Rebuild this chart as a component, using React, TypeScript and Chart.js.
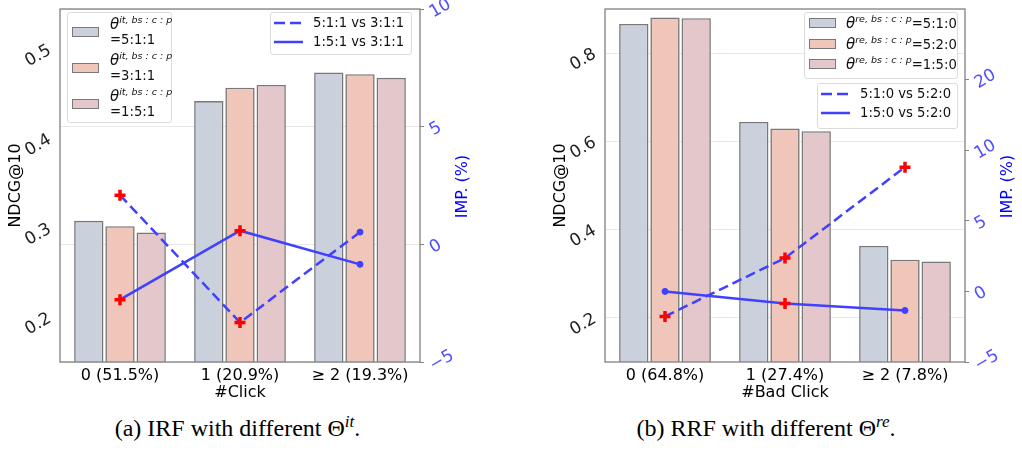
import React, { useEffect, useRef } from 'react';
import { Chart, registerables } from 'chart.js';

Chart.register(...registerables);
Chart.defaults.font.family = '"DejaVu Sans", sans-serif';

// ---------- Data ----------
const irfCategories = ['0 (51.5%)', '1 (20.9%)', '≥ 2 (19.3%)'];
const irfBarNames = ['5:1:1', '3:1:1', '1:5:1'];
const irfBar511 = [0.308, 0.442, 0.474];
const irfBar311 = [0.302, 0.457, 0.472];
const irfBar151 = [0.295, 0.46, 0.468];
const irfLineNames = ['5:1:1 vs 3:1:1', '1:5:1 vs 3:1:1'];
const irfImp511 = [2.09, -3.32, 0.52];
const irfImp151 = [-2.35, 0.58, -0.85];
const irfSig511 = [true, true, false];
const irfSig151 = [true, true, false];
const irfLeftTicks = [0.2, 0.3, 0.4, 0.5];
const irfRightTicks = [-5, 0, 5, 10];

const rrfCategories = ['0 (64.8%)', '1 (27.4%)', '≥ 2 (7.8%)'];
const rrfBarNames = ['5:1:0', '5:2:0', '1:5:0'];
const rrfBar510 = [0.866, 0.644, 0.363];
const rrfBar520 = [0.881, 0.629, 0.332];
const rrfBar150 = [0.879, 0.623, 0.328];
const rrfLineNames = ['5:1:0 vs 5:2:0', '1:5:0 vs 5:2:0'];
const rrfImp510 = [-1.77, 2.36, 8.8];
const rrfImp150 = [0.0, -0.86, -1.35];
const rrfSig510 = [true, true, true];
const rrfSig150 = [false, true, false];
const rrfLeftTicks = [0.2, 0.4, 0.6, 0.8];
const rrfRightTicks = [-5, 0, 5, 10, 15];
const rrfRightTickLabels = ['−5', '0', '5', '10', '20'];

// ---------- Styles ----------
const barColors = ['rgb(203,208,221)', 'rgb(240,197,186)', 'rgb(227,199,203)'];
const barEdge = 'rgb(120,120,120)';
const lineBlue = 'rgb(64,64,255)';
const tickBlue = 'rgb(80,80,255)';
const FONT = '"DejaVu Sans", sans-serif';
const CW = 477;
const CH = 410;

function fmtSigned(v: number) {
  return v < 0 ? '−' + Math.abs(v) : String(v);
}

function extrasPlugin(rightTitle: string) {
  return {
    id: 'extras',
    afterDraw(chart: any) {
      const { ctx, chartArea: a } = chart;
      ctx.save();
      ctx.strokeStyle = 'rgb(128,128,128)';
      ctx.lineWidth = 1.3;
      ctx.strokeRect(a.left, a.top, a.right - a.left, a.bottom - a.top);
      ctx.translate(a.right + 43, (a.top + a.bottom) / 2 + 1);
      ctx.rotate(-Math.PI / 2);
      ctx.fillStyle = '#0000ff';
      ctx.font = '16px ' + FONT;
      ctx.textAlign = 'center';
      ctx.textBaseline = 'middle';
      ctx.fillText(rightTitle, 0, 0);
      ctx.restore();
    },
  };
}

function lineDataset(label: string, data: number[], sig: boolean[], dashed: boolean) {
  return {
    type: 'line',
    label,
    data,
    yAxisID: 'y1',
    order: 1,
    borderColor: lineBlue,
    backgroundColor: lineBlue,
    borderWidth: 2.5,
    borderDash: dashed ? [10, 5] : [],
    tension: 0,
    fill: false,
    pointStyle: sig.map((s) => (s ? 'cross' : 'circle')),
    pointRadius: sig.map((s) => (s ? 5.5 : 3)),
    pointBorderWidth: sig.map((s) => (s ? 3.5 : 1)),
    pointBorderColor: sig.map((s) => (s ? 'rgb(255,0,0)' : lineBlue)),
    pointBackgroundColor: sig.map((s) => (s ? 'rgb(255,0,0)' : lineBlue)),
  };
}

function barDataset(label: string, data: number[], i: number) {
  return {
    type: 'bar',
    label,
    data,
    yAxisID: 'y',
    order: 2,
    backgroundColor: barColors[i],
    borderColor: barEdge,
    borderWidth: 1.6,
    categoryPercentage: 0.78,
    barPercentage: 0.94,
  };
}

function buildConfig(p: {
  categories: string[];
  bars: { name: string; data: number[] }[];
  lines: { name: string; data: number[]; sig: boolean[]; dashed: boolean }[];
  leftMin: number;
  leftMax: number;
  leftTicks: number[];
  rightMin: number;
  rightMax: number;
  rightTicks: number[];
  rightLabels: string[];
  leftGrid: boolean;
  xTitle: string;
}) {
  return {
    type: 'bar',
    data: {
      labels: p.categories,
      datasets: [
        ...p.lines.map((l) => lineDataset(l.name, l.data, l.sig, l.dashed)),
        ...p.bars.map((b, i) => barDataset(b.name, b.data, i)),
      ],
    },
    options: {
      responsive: false,
      animation: false,
      devicePixelRatio: 1,
      layout: { padding: { top: 5, left: 0, right: 0, bottom: 0 } },
      plugins: { legend: { display: false }, tooltip: { enabled: false } },
      scales: {
        x: {
          type: 'category',
          offset: true,
          grid: { display: false, drawTicks: false },
          border: { display: false },
          ticks: { font: { size: 16, family: FONT }, color: '#000', padding: 4, minRotation: 0, maxRotation: 0, autoSkip: false },
          title: { display: true, text: p.xTitle, font: { size: 16, family: FONT }, color: '#000', padding: { top: 0, bottom: 8 } },
          afterFit: (s: any) => {
            s.height = CH - 362;
            s.paddingLeft = 0;
            s.paddingRight = 0;
          },
        },
        y: {
          type: 'linear',
          position: 'left',
          min: p.leftMin,
          max: p.leftMax,
          afterBuildTicks: (s: any) => {
            s.ticks = p.leftTicks.map((v) => ({ value: v }));
          },
          afterFit: (s: any) => {
            s.width = 60;
            s.paddingTop = 0;
            s.paddingBottom = 0;
          },
          grid: p.leftGrid
            ? { display: true, drawOnChartArea: true, drawTicks: false, color: 'rgb(232,232,232)', lineWidth: 1 }
            : { display: false, drawTicks: false },
          border: { display: false },
          ticks: {
            font: { size: 17, family: FONT },
            color: '#222',
            minRotation: 30,
            maxRotation: 30,
            padding: 10,
            callback: (v: any) => Number(v).toFixed(1),
          },
          title: { display: true, text: 'NDCG@10', font: { size: 16, family: FONT }, color: '#000', padding: { top: 6, bottom: 0 } },
        },
        y1: {
          type: 'linear',
          position: 'right',
          min: p.rightMin,
          max: p.rightMax,
          afterBuildTicks: (s: any) => {
            s.ticks = p.rightTicks.map((v) => ({ value: v }));
          },
          afterFit: (s: any) => {
            s.width = CW - 420;
            s.paddingTop = 0;
            s.paddingBottom = 0;
          },
          grid: {
            display: true,
            drawOnChartArea: !p.leftGrid,
            drawTicks: true,
            tickLength: 4,
            tickColor: 'rgb(128,128,128)',
            color: 'rgb(232,232,232)',
            lineWidth: 1,
          },
          border: { display: false },
          ticks: {
            font: { size: 17, family: FONT },
            color: tickBlue,
            minRotation: 30,
            maxRotation: 30,
            padding: 7,
            labelOffset: 5,
            callback: (v: any) => {
              const idx = p.rightTicks.indexOf(Number(v));
              return idx >= 0 ? p.rightLabels[idx] : fmtSigned(Number(v));
            },
          },
          title: { display: false },
        },
      },
    },
    plugins: [extrasPlugin('IMP. (%)')],
  };
}

function ChartCanvas({ left, make }: { left: number; make: () => any }) {
  const ref = useRef<HTMLCanvasElement>(null);
  useEffect(() => {
    const chart = new Chart(ref.current as HTMLCanvasElement, make());
    return () => chart.destroy();
  }, []);
  return (
    <canvas
      ref={ref}
      width={CW}
      height={CH}
      style={{ position: 'absolute', left, top: 0, width: CW, height: CH }}
    />
  );
}

const legendText: React.CSSProperties = {
  position: 'absolute',
  fontFamily: FONT,
  fontSize: 13.2,
  lineHeight: '18px',
  color: '#111',
  whiteSpace: 'nowrap',
};

function Theta({ sup }: { sup: string }) {
  return (
    <span>
      <span style={{ fontStyle: 'italic', fontSize: 15 }}>θ</span>
      <span style={{ fontStyle: 'italic', fontSize: 9.5, position: 'relative', top: -6 }}>{sup}</span>
    </span>
  );
}

function LegendBox({ left, top, width, height }: { left: number; top: number; width: number; height: number }) {
  return (
    <div
      style={{
        position: 'absolute',
        left,
        top,
        width,
        height,
        border: '1px solid rgb(220,220,220)',
        borderRadius: 3,
        background: 'rgba(255,255,255,0.85)',
        boxSizing: 'border-box',
      }}
    />
  );
}

function Patch({ left, cy, color }: { left: number; cy: number; color: string }) {
  return (
    <div
      style={{
        position: 'absolute',
        left,
        top: cy - 5,
        width: 27,
        height: 10,
        background: color,
        border: '1.3px solid ' + barEdge,
        boxSizing: 'border-box',
      }}
    />
  );
}

function LineSample({ left, cy, dashed }: { left: number; cy: number; dashed: boolean }) {
  return (
    <svg style={{ position: 'absolute', left, top: cy - 3 }} width={29} height={6}>
      <line x1={0} y1={3} x2={29} y2={3} stroke={lineBlue} strokeWidth={2.5} strokeDasharray={dashed ? '11 5' : undefined} />
    </svg>
  );
}

const captionStyle: React.CSSProperties = {
  position: 'absolute',
  top: 414,
  textAlign: 'center',
  fontFamily: '"Liberation Serif", serif',
  fontSize: 24,
  lineHeight: '28px',
  color: '#000',
  whiteSpace: 'nowrap',
};

export default function App() {
  const irfBars = [irfBar511, irfBar311, irfBar151];
  const rrfBars = [rrfBar510, rrfBar520, rrfBar150];
  const makeIrf = () =>
    buildConfig({
      categories: irfCategories,
      bars: irfBarNames.map((n, i) => ({ name: n, data: irfBars[i] })),
      lines: [
        { name: irfLineNames[0], data: irfImp511, sig: irfSig511, dashed: true },
        { name: irfLineNames[1], data: irfImp151, sig: irfSig151, dashed: false },
      ],
      leftMin: 0.15,
      leftMax: 0.545,
      leftTicks: irfLeftTicks,
      rightMin: -5,
      rightMax: 10,
      rightTicks: irfRightTicks,
      rightLabels: irfRightTicks.map(fmtSigned),
      leftGrid: false,
      xTitle: '#Click',
    });
  const makeRrf = () =>
    buildConfig({
      categories: rrfCategories,
      bars: rrfBarNames.map((n, i) => ({ name: n, data: rrfBars[i] })),
      lines: [
        { name: rrfLineNames[0], data: rrfImp510, sig: rrfSig510, dashed: true },
        { name: rrfLineNames[1], data: rrfImp150, sig: rrfSig150, dashed: false },
      ],
      leftMin: 0.1,
      leftMax: 0.9,
      leftTicks: rrfLeftTicks,
      rightMin: -5,
      rightMax: 20,
      rightTicks: rrfRightTicks,
      rightLabels: rrfRightTickLabels,
      leftGrid: true,
      xTitle: '#Bad Click',
    });

  return (
    <div style={{ position: 'absolute', left: 0, top: 0, width: 1022, height: 452, background: '#fff', overflow: 'hidden' }}>
      <ChartCanvas left={0} make={makeIrf} />
      <ChartCanvas left={545} make={makeRrf} />

      {/* IRF bar legend */}
      <LegendBox left={67} top={12} width={105} height={111} />
      {irfBarNames.map((n, i) => (
        <React.Fragment key={n}>
          <Patch left={72} cy={31.7 + 36 * i} color={barColors[i]} />
          <div style={{ ...legendText, left: 110, top: 15 + 36 * i }}>
            <Theta sup="it, bs : c : p" />
          </div>
          <div style={{ ...legendText, left: 110, top: 31 + 36 * i }}>={n}</div>
        </React.Fragment>
      ))}

      {/* IRF line legend */}
      <LegendBox left={270} top={12} width={142} height={43} />
      {irfLineNames.map((n, i) => (
        <React.Fragment key={n}>
          <LineSample left={274} cy={22.7 + 19.3 * i} dashed={i === 0} />
          <div style={{ ...legendText, left: 313, top: 22.7 + 19.3 * i - 9 }}>{n}</div>
        </React.Fragment>
      ))}

      {/* RRF bar legend */}
      <LegendBox left={804} top={12} width={154} height={67} />
      {rrfBarNames.map((n, i) => (
        <React.Fragment key={n}>
          <Patch left={809} cy={23.3 + 20.5 * i} color={barColors[i]} />
          <div style={{ ...legendText, left: 846, top: 23.3 + 20.5 * i - 9 }}>
            <Theta sup="re, bs : c : p" />={n}
          </div>
        </React.Fragment>
      ))}

      {/* RRF line legend */}
      <LegendBox left={817} top={83} width={141} height={46} />
      {rrfLineNames.map((n, i) => (
        <React.Fragment key={n}>
          <LineSample left={821} cy={94 + 19.3 * i} dashed={i === 0} />
          <div style={{ ...legendText, left: 860, top: 94 + 19.3 * i - 9 }}>{n}</div>
        </React.Fragment>
      ))}

      {/* Captions */}
      <div style={{ ...captionStyle, left: 0, width: 475 }}>
        (a) IRF with different Θ<span style={{ fontStyle: 'italic', fontSize: 17, position: 'relative', top: -9 }}>it</span>.
      </div>
      <div style={{ ...captionStyle, left: 545, width: 442 }}>
        (b) RRF with different Θ<span style={{ fontStyle: 'italic', fontSize: 17, position: 'relative', top: -9 }}>re</span>.
      </div>
    </div>
  );
}
